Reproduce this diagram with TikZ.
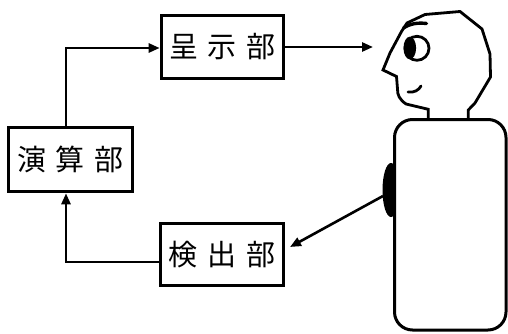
\documentclass[tikz,border=0pt]{standalone}
\usepackage{fontspec}
\newfontfamily\cjk{Noto Sans CJK JP}
\usetikzlibrary{arrows.meta}
\newcommand{\gapk}{\hskip 10pt}
\begin{document}
\begin{tikzpicture}[x=1pt,y=-1pt,
  unitbox/.style={draw, line width=3.6pt, inner sep=0pt, minimum height=63pt,
    font=\cjk\fontsize{29}{30}\selectfont},
  flow/.style={line width=2.6pt, -{Triangle[length=11pt,width=9pt]}},
  figline/.style={line width=2.8pt, line join=round, line cap=round}]
\useasboundingbox (0,0) rectangle (508,334);

% processing blocks
\node[unitbox, minimum width=122pt] (disp) at (222.5,47) {呈\gapk 示\gapk 部};
\node[unitbox, minimum width=124pt, minimum height=64pt] (calc) at (70.5,159.5) {演\gapk 算\gapk 部};
\node[unitbox, minimum width=123pt, minimum height=62pt] (det) at (222,254.5) {検\gapk 出\gapk 部};

% routing points
\coordinate (up) at (66,48);
\coordinate (low) at (66,262);
\coordinate (gaze) at (373,47);
\coordinate (hand) at (383,196);
\coordinate (sense) at (290,247);

% signal flow
\draw[flow] (calc.north -| up) |- (disp.west |- up);
\draw[flow] (det.west |- low) -| (calc.south -| up);
\draw[flow] (disp.east |- gaze) -- (gaze);
\draw[flow] (hand) -- (sense);

% sensor on the side of the body
\fill (391,190) ellipse [x radius=8.5, y radius=27];

% body
\draw[line width=3pt, fill=white, rounded corners=18pt] (394.5,119.5) rectangle (506,330);

% head
\draw[figline, line join=miter]
  (428.3,119) -- (428.3,109.3) -- (406,104) .. controls (399,99) and (397.5,95) .. (397.5,89)
  -- (396.5,76.5) -- (383,70) -- (390,53) -- (401.5,31.5) -- (407,23)
  -- (425,14.5) -- (460,11.5) -- (482,29) -- (490,54) -- (490.5,77)
  -- (475,103) -- (468.3,110) -- (468.3,119);

% eye
\draw[line width=2.8pt] (417,48.3) circle [radius=12];
\fill (409.8,48) ellipse [x radius=6.3, y radius=11.3];

% eyebrow
\draw[line width=3.4pt, line cap=round] (403.5,28) .. controls (410,23.5) and (418,22.5) .. (426.5,23.5);

% mouth
\draw[line width=2.8pt, line cap=round] (408,92) .. controls (414,93) and (419,90) .. (421,86);
\end{tikzpicture}
\end{document}
